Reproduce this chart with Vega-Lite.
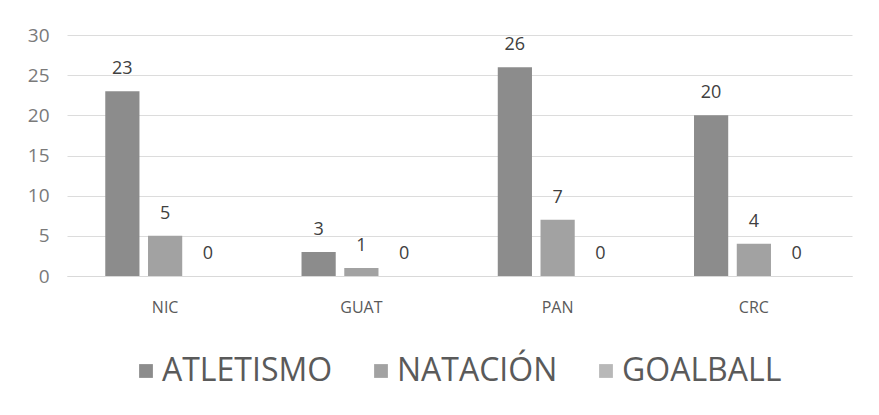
{
  "$schema": "https://vega.github.io/schema/vega-lite/v6.json",
  "autosize": "none",
  "width": 785,
  "height": 241,
  "padding": {"left": 67, "top": 35, "right": 27, "bottom": 139},
  "background": "#ffffff",
  "config": {
    "view": {"stroke": null},
    "font": "Open Sans"
  },
  "data": {
    "values": [
      {"pais": "NIC", "deporte": "ATLETISMO", "valor": 23},
      {"pais": "NIC", "deporte": "NATACIÓN", "valor": 5},
      {"pais": "NIC", "deporte": "GOALBALL", "valor": 0},
      {"pais": "GUAT", "deporte": "ATLETISMO", "valor": 3},
      {"pais": "GUAT", "deporte": "NATACIÓN", "valor": 1},
      {"pais": "GUAT", "deporte": "GOALBALL", "valor": 0},
      {"pais": "PAN", "deporte": "ATLETISMO", "valor": 26},
      {"pais": "PAN", "deporte": "NATACIÓN", "valor": 7},
      {"pais": "PAN", "deporte": "GOALBALL", "valor": 0},
      {"pais": "CRC", "deporte": "ATLETISMO", "valor": 20},
      {"pais": "CRC", "deporte": "NATACIÓN", "valor": 4},
      {"pais": "CRC", "deporte": "GOALBALL", "valor": 0}
    ]
  },
  "encoding": {
    "x": {
      "field": "pais",
      "type": "nominal",
      "sort": ["NIC", "GUAT", "PAN", "CRC"],
      "scale": {"paddingInner": 0.39, "paddingOuter": 0.195},
      "axis": {
        "title": null,
        "labelAngle": 0,
        "labelFont": "Open Sans",
        "labelFontSize": 16,
        "labelColor": "#5a5a5a",
        "labelPadding": 23,
        "ticks": false,
        "domainColor": "#d9d9d9",
        "grid": false
      }
    },
    "xOffset": {
      "field": "deporte",
      "type": "nominal",
      "sort": ["ATLETISMO", "NATACIÓN", "GOALBALL"],
      "scale": {"paddingInner": 0.2}
    },
    "y": {
      "field": "valor",
      "type": "quantitative",
      "scale": {"domain": [0, 30], "nice": false},
      "axis": {
        "title": null,
        "values": [0, 5, 10, 15, 20, 25, 30],
        "labelFont": "Open Sans",
        "labelFontSize": 19,
        "labelColor": "#7a7a7a",
        "labelPadding": 18,
        "ticks": false,
        "domain": false,
        "gridColor": "#dcdcdc",
        "gridWidth": 1
      }
    }
  },
  "layer": [
    {
      "mark": {"type": "bar"},
      "encoding": {
        "color": {
          "field": "deporte",
          "type": "nominal",
          "sort": ["ATLETISMO", "NATACIÓN", "GOALBALL"],
          "scale": {
            "domain": ["ATLETISMO", "NATACIÓN", "GOALBALL"],
            "range": ["#8c8c8c", "#a2a2a2", "#b8b8b8"]
          },
          "legend": {
            "title": null,
            "orient": "none",
            "direction": "horizontal",
            "legendX": 63,
            "legendY": 320,
            "symbolType": "square",
            "symbolSize": 190,
            "symbolStrokeWidth": 0,
            "labelFont": "Open Sans",
            "labelFontSize": 32,
            "labelLimit": 0,
            "labelColor": "#5a5a5a",
            "labelOffset": 0,
            "columnPadding": 32
          }
        }
      }
    },
    {
      "mark": {
        "type": "text",
        "baseline": "bottom",
        "dy": -13,
        "fontSize": 18,
        "font": "Open Sans",
        "color": "#404040"
      },
      "encoding": {
        "text": {"field": "valor", "type": "quantitative"}
      }
    }
  ]
}
